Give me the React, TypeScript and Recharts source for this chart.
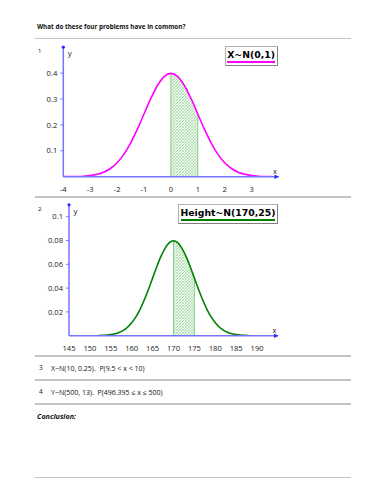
import React from 'react';
import { ComposedChart, Line, Area, XAxis, YAxis, ReferenceLine, ReferenceDot, Label } from 'recharts';

// ---------- data: chart 1, X ~ N(0,1) ----------
const xs1 = [-4, -3.75, -3.5, -3.25, -3, -2.75, -2.5, -2.25, -2, -1.75, -1.5, -1.25, -1, -0.75, -0.5, -0.25, 0, 0.25, 0.5, 0.75, 1, 1.25, 1.5, 1.75, 2, 2.25, 2.5, 2.75, 3, 3.25, 3.5, 3.75];
const ys1 = [0.0001, 0.0004, 0.0009, 0.002, 0.0044, 0.0091, 0.0175, 0.0317, 0.054, 0.0863, 0.1295, 0.1826, 0.242, 0.3011, 0.3521, 0.3867, 0.3989, 0.3867, 0.3521, 0.3011, 0.242, 0.1826, 0.1295, 0.0863, 0.054, 0.0317, 0.0175, 0.0091, 0.0044, 0.002, 0.0009, 0.0004];
const shade1 = [0, 1];
const xTicks1 = [-4, -3, -2, -1, 0, 1, 2, 3];
const yTicks1 = [0.1, 0.2, 0.3, 0.4];
const xDomain1 = [-4, 4];
const yDomain1 = [0, 0.5];
const legend1 = 'X~N(0,1)';

// ---------- data: chart 2, Height ~ N(170,25) ----------
const xs2 = [152, 153, 154, 155, 156, 157, 158, 159, 160, 161, 162, 163, 164, 165, 166, 167, 168, 169, 170, 171, 172, 173, 174, 175, 176, 177, 178, 179, 180, 181, 182, 183, 184, 185, 186, 187, 188];
const ys2 = [0.00012, 0.00025, 0.00048, 0.00089, 0.00158, 0.00272, 0.00448, 0.0071, 0.0108, 0.01579, 0.02218, 0.02995, 0.03884, 0.04839, 0.05794, 0.06664, 0.07365, 0.07821, 0.07979, 0.07821, 0.07365, 0.06664, 0.05794, 0.04839, 0.03884, 0.02995, 0.02218, 0.01579, 0.0108, 0.0071, 0.00448, 0.00272, 0.00158, 0.00089, 0.00048, 0.00025, 0.00012];
const shade2 = [170, 175];
const xTicks2 = [145, 150, 155, 160, 165, 170, 175, 180, 185, 190];
const yTicks2 = [0.02, 0.04, 0.06, 0.08, 0.1];
const xDomain2 = [145, 195];
const yDomain2 = [0, 0.11];
const legend2 = 'Height~N(170,25)';

// ---------- worksheet text ----------
const titleText = 'What do these four problems have in common?';
const problem3 = 'X~N(10, 0.25).  P(9.5 < x < 10)';
const problem4 = 'Y~N(500, 13).  P(496.395 \u2264 x \u2264 500)';
const conclusionText = 'Conclusion:';

const AXIS = '#7474ff';
const FONT = '"Open Sans", "Noto Sans", sans-serif';

function buildRows(xs: number[], ys: number[], shade: number[]) {
  return xs.map((x, i) => ({
    x,
    y: ys[i],
    s: x >= shade[0] && x <= shade[1] ? ys[i] : null,
  }));
}

function valueAt(xs: number[], ys: number[], x: number) {
  const i = xs.indexOf(x);
  return i >= 0 ? ys[i] : 0;
}

type ChartProps = {
  id: string;
  xs: number[];
  ys: number[];
  shade: number[];
  xTicks: number[];
  yTicks: number[];
  xDomain: number[];
  yDomain: number[];
  color: string;
  top: number;
  margin: { top: number; right: number; bottom: number; left: number };
};

function NormalChart(p: ChartProps) {
  const rows = buildRows(p.xs, p.ys, p.shade);
  const tickStyle = { fontSize: 7.6, fill: '#222', fontFamily: FONT };
  const arrow = (props: any) => (
    <path d={`M${props.cx - 4},${props.cy - 2.2}L${props.cx + 0.5},${props.cy}L${props.cx - 4},${props.cy + 2.2}Z`} fill="#2a2aff" />
  );
  return (
    <div style={{ position: 'absolute', left: 0, top: p.top, width: 386, height: 160 }}>
      <ComposedChart width={386} height={160} data={rows} margin={p.margin}>
        <defs>
          <pattern id={p.id} patternUnits="userSpaceOnUse" width="3" height="3">
            <rect width="3" height="3" fill="#eef8ee" />
            <path d="M-1,1 L1,-1 M0,3 L3,0 M2,4 L4,2" stroke="#8fd08f" strokeWidth="0.7" />
            <path d="M0,0 L3,3" stroke="#b8e2b8" strokeWidth="0.5" />
          </pattern>
        </defs>
        <XAxis
          dataKey="x"
          type="number"
          domain={p.xDomain}
          ticks={p.xTicks}
          allowDataOverflow
          height={20}
          tickLine={false}
          tickMargin={4}
          tick={tickStyle}
          axisLine={{ stroke: AXIS, strokeWidth: 1.5 }}
          interval={0}
          label={
            <Label
              content={(lp: any) => (
                <text x={lp.viewBox.x + lp.viewBox.width - 3.5} y={lp.viewBox.y - 3.2} textAnchor="middle" fontSize={7.5} fontFamily={FONT} fill="#222">
                  x
                </text>
              )}
            />
          }
        />
        <YAxis
          type="number"
          domain={p.yDomain}
          ticks={p.yTicks}
          allowDataOverflow
          width={30}
          tickSize={3}
          tickMargin={3}
          tick={tickStyle}
          tickLine={{ stroke: AXIS }}
          axisLine={{ stroke: AXIS, strokeWidth: 1.5 }}
          interval={0}
          label={
            <Label
              content={(lp: any) => (
                <text x={lp.viewBox.x + lp.viewBox.width + 6.5} y={lp.viewBox.y + 9} textAnchor="middle" fontSize={8} fontFamily={FONT} fill="#222">
                  y
                </text>
              )}
            />
          }
        />
        <Area
          dataKey="s"
          type="monotone"
          stroke="none"
          fill={`url(#${p.id})`}
          fillOpacity={1}
          connectNulls={false}
          isAnimationActive={false}
          dot={false}
          activeDot={false}
        />
        <ReferenceLine
          segment={[{ x: p.shade[0], y: 0 }, { x: p.shade[0], y: valueAt(p.xs, p.ys, p.shade[0]) }]}
          stroke="#86cc86"
          strokeWidth={1}
        />
        <ReferenceLine
          segment={[{ x: p.shade[1], y: 0 }, { x: p.shade[1], y: valueAt(p.xs, p.ys, p.shade[1]) }]}
          stroke="#86cc86"
          strokeWidth={1}
        />
        <Line dataKey="y" type="monotone" stroke={p.color} strokeWidth={1.6} dot={false} activeDot={false} isAnimationActive={false} />
        <ReferenceDot x={p.xDomain[1]} y={p.yDomain[0]} ifOverflow="visible" shape={arrow} />
        <ReferenceDot x={p.xDomain[0]} y={p.yDomain[1]} r={1.6} fill="#2a2aff" stroke="none" ifOverflow="visible" />
      </ComposedChart>
    </div>
  );
}

function LegendBox({ text, color, left, top, width }: { text: string; color: string; left: number; top: number; width: number }) {
  return (
    <div
      style={{
        position: 'absolute',
        left,
        top,
        width,
        height: 20,
        boxSizing: 'border-box',
        border: '1px solid #b0b0b0',
        borderRightColor: '#808080',
        borderBottomColor: '#808080',
        background: '#fff',
        display: 'flex',
        alignItems: 'center',
        justifyContent: 'center',
      }}
    >
      <span
        style={{
          display: 'block',
          fontFamily: '"DejaVu Sans", sans-serif',
          fontWeight: 'bold',
          fontSize: 9.3,
          lineHeight: '11px',
          color: '#000',
          borderBottom: `2px solid ${color}`,
          paddingBottom: 1,
          whiteSpace: 'nowrap',
        }}
      >
        {text}
      </span>
    </div>
  );
}

function Rule({ top }: { top: number }) {
  return <div style={{ position: 'absolute', left: 35, top, width: 316, height: 1.5, background: '#c4c4c4' }} />;
}

function Txt({ left, center, size, children, bold, italic }: any) {
  return (
    <div
      style={{
        position: 'absolute',
        left,
        top: center - size / 2 - 1,
        fontSize: size,
        lineHeight: `${size + 2}px`,
        fontFamily: FONT,
        fontWeight: bold ? 'bold' : 'normal',
        fontStyle: italic ? 'italic' : 'normal',
        color: '#111',
        whiteSpace: 'pre',
      }}
    >
      {children}
    </div>
  );
}

export default function App() {
  return (
    <div style={{ position: 'absolute', left: 0, top: 0, width: 386, height: 500, background: '#fff', overflow: 'hidden' }}>
      <Txt left={37} center={26.7} size={6.3} bold>
        {titleText}
      </Txt>
      <Rule top={37.5} />
      <Txt left={38} center={51} size={6}>1</Txt>
      <NormalChart
        id="hatch1"
        xs={xs1}
        ys={ys1}
        shade={shade1}
        xTicks={xTicks1}
        yTicks={yTicks1}
        xDomain={xDomain1}
        yDomain={yDomain1}
        color="#ff00ff"
        top={40}
        margin={{ top: 7.2, right: 107.5, bottom: 3.3, left: 33.3 }}
      />
      <LegendBox text={legend1} color="#ff00ff" left={224.7} top={46} width={53} />
      <Rule top={196} />
      <Txt left={38} center={209} size={6}>2</Txt>
      <NormalChart
        id="hatch2"
        xs={xs2}
        ys={ys2}
        shade={shade2}
        xTicks={xTicks2}
        yTicks={yTicks2}
        xDomain={xDomain2}
        yDomain={yDomain2}
        color="#008000"
        top={198}
        margin={{ top: 6.8, right: 108, bottom: 2.3, left: 39 }}
      />
      <LegendBox text={legend2} color="#008000" left={178} top={204.3} width={100} />
      <Rule top={355} />
      <Txt left={39} center={368.3} size={6.5}>3</Txt>
      <Txt left={51} center={368.3} size={7}>{problem3}</Txt>
      <Rule top={379} />
      <Txt left={39} center={392.3} size={6.5}>4</Txt>
      <Txt left={51} center={392.3} size={7}>{problem4}</Txt>
      <Rule top={403} />
      <Txt left={37} center={416.3} size={7.2} bold italic>
        {conclusionText}
      </Txt>
      <Rule top={476.5} />
    </div>
  );
}
